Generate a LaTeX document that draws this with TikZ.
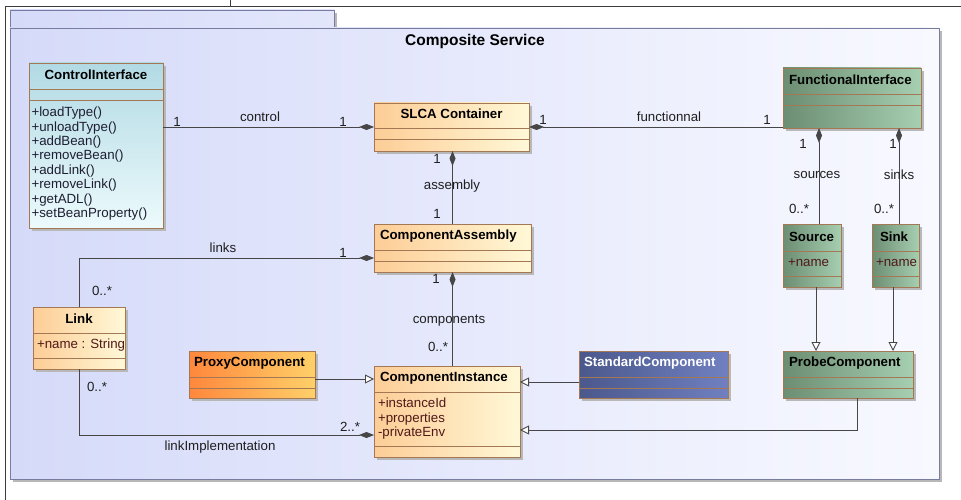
\documentclass[tikz,border=0pt]{standalone}
\usepackage{fontspec}
\setmainfont{Liberation Sans}
\usetikzlibrary{arrows.meta,calc,shadows}
\definecolor{clsborder}{RGB}{165,120,85}
\definecolor{linec}{RGB}{70,70,70}
\definecolor{or1}{RGB}{253,205,150}
\definecolor{or2}{RGB}{255,248,215}
\definecolor{cy1}{RGB}{178,218,228}
\definecolor{cy2}{RGB}{236,250,252}
\definecolor{gr1}{RGB}{108,142,114}
\definecolor{gr2}{RGB}{166,206,176}
\definecolor{px1}{RGB}{255,135,60}
\definecolor{px2}{RGB}{255,208,105}
\definecolor{bl1}{RGB}{75,88,140}
\definecolor{bl2}{RGB}{112,128,192}
\definecolor{pk1}{RGB}{213,218,249}
\definecolor{pk2}{RGB}{248,249,255}
\definecolor{pkborder}{RGB}{120,125,160}
\definecolor{attrc}{RGB}{80,25,25}
\definecolor{methc}{RGB}{30,30,50}
\definecolor{framec}{RGB}{60,60,60}
\begin{document}
\begin{tikzpicture}[x=1pt,y=-1pt,
  txt/.style={font=\fontsize{13.3}{14.4}\selectfont, inner sep=0pt, outer sep=0pt, text=black!88},
  clsname/.style={txt, font=\fontsize{13.3}{14.4}\selectfont\bfseries, text=black},
  attr/.style={txt, text=attrc, anchor=base west},
  meth/.style={txt, text=methc, anchor=base west},
  cls/.style={draw=clsborder, line width=0.9pt, inner sep=0pt, outer sep=0pt, anchor=north west,
     drop shadow={shadow xshift=3pt, shadow yshift=-3pt, fill=black!28, opacity=1}},
  orangecls/.style={cls, left color=or1, right color=or2},
  cyancls/.style={cls, top color=cy1, bottom color=cy2},
  greencls/.style={cls, left color=gr1, right color=gr2},
  proxycls/.style={cls, left color=px1, right color=px2},
  bluecls/.style={cls, left color=bl1, right color=bl2},
  sep/.style={draw=clsborder, line width=0.9pt},
  comp/.style={draw=linec, line width=0.9pt, -{Diamond[length=15pt,width=6pt]}},
  gen/.style={draw=linec, line width=0.9pt, -{Triangle[open,length=9pt,width=9pt,fill=white]}},
  frameline/.style={draw=framec, line width=0.8pt}
]
\useasboundingbox (0,0) rectangle (961,500);
\fill[white] (0,0) rectangle (961,500);
% outer frame
\draw[frameline] (961,6) -- (5,6) -- (5,500);
\draw[frameline] (230,0) -- (230,6);
% package
\fill[black!28] (13,13) rectangle (337,31);
\fill[black!28] (13,31) rectangle (942,482);
\shade[left color=pk1, right color=pk1!60!pk2, draw=pkborder, line width=0.9pt] (10,10) rectangle (334,28);
\shade[left color=pk1, right color=pk2, draw=pkborder, line width=0.9pt] (10,28) rectangle (939,479);
\node[txt, font=\fontsize{15.5}{18}\selectfont\bfseries, text=black] (title) at (475,41) {Composite Service};

% ControlInterface
\node[cyancls, minimum width=134pt, minimum height=165pt] (ctl) at (29,63) {};
\draw[sep] ([yshift=-26pt]ctl.north west) -- ([yshift=-26pt]ctl.north east);
\draw[sep] ([yshift=-37pt]ctl.north west) -- ([yshift=-37pt]ctl.north east);
\node[clsname] (ctlname) at ($(ctl.north)+(0,11.5)$) {ControlInterface};
\foreach \t [count=\i from 0] in {+loadType(),+unloadType(),+addBean(),+removeBean(),+addLink(),+removeLink(),+getADL(),+setBeanProperty()}
  \node[meth] (m\i) at (31.5,116.8+14.4*\i) {\t};

% SLCA Container
\node[orangecls, minimum width=155pt, minimum height=48pt] (slca) at (374,103) {};
\draw[sep] ([yshift=-25pt]slca.north west) -- ([yshift=-25pt]slca.north east);
\draw[sep] ([yshift=-36pt]slca.north west) -- ([yshift=-36pt]slca.north east);
\node[clsname] (slcaname) at ($(slca.north)+(0,11)$) {SLCA Container};

% ComponentAssembly
\node[orangecls, minimum width=157pt, minimum height=48pt] (asm) at (374,224) {};
\draw[sep] ([yshift=-26pt]asm.north west) -- ([yshift=-26pt]asm.north east);
\draw[sep] ([yshift=-37pt]asm.north west) -- ([yshift=-37pt]asm.north east);
\node[clsname, anchor=west] (asmname) at ($(asm.north west)+(6,12)$) {ComponentAssembly};

% ComponentInstance
\node[orangecls, minimum width=146pt, minimum height=91pt] (ci) at (374,366) {};
\draw[sep] ([yshift=-26pt]ci.north west) -- ([yshift=-26pt]ci.north east);
\draw[sep] ([yshift=-80pt]ci.north west) -- ([yshift=-80pt]ci.north east);
\node[clsname, anchor=west] (ciname) at ($(ci.north west)+(6,12)$) {ComponentInstance};
\foreach \t [count=\i from 0] in {+instanceId,+properties,-privateEnv}
  \node[attr] (a\i) at (378,407.8+14.4*\i) {\t};

% Link
\node[orangecls, minimum width=92pt, minimum height=62pt] (link) at (33,307) {};
\draw[sep] ([yshift=-26pt]link.north west) -- ([yshift=-26pt]link.north east);
\draw[sep] ([yshift=-51pt]link.north west) -- ([yshift=-51pt]link.north east);
\node[clsname] (linkname) at ($(link.north)+(0,12)$) {Link};
\node[attr] (linkattr) at (37,348.5) {+name : String};

% ProxyComponent
\node[proxycls, minimum width=126pt, minimum height=47pt] (proxy) at (189,351) {};
\draw[sep] ([yshift=-26pt]proxy.north west) -- ([yshift=-26pt]proxy.north east);
\draw[sep] ([yshift=-37pt]proxy.north west) -- ([yshift=-37pt]proxy.north east);
\node[clsname, anchor=west] (proxyname) at ($(proxy.north west)+(5,12)$) {ProxyComponent};

% StandardComponent
\node[bluecls, minimum width=149pt, minimum height=47pt] (std) at (579,351) {};
\draw[sep] ([yshift=-26pt]std.north west) -- ([yshift=-26pt]std.north east);
\draw[sep] ([yshift=-37pt]std.north west) -- ([yshift=-37pt]std.north east);
\node[clsname, anchor=west, text=white] (stdname) at ($(std.north west)+(5,12)$) {StandardComponent};

% ProbeComponent
\node[greencls, minimum width=130pt, minimum height=47pt] (probe) at (783,351) {};
\draw[sep] ([yshift=-26pt]probe.north west) -- ([yshift=-26pt]probe.north east);
\draw[sep] ([yshift=-37pt]probe.north west) -- ([yshift=-37pt]probe.north east);
\node[clsname, anchor=west] (probename) at ($(probe.north west)+(6,12)$) {ProbeComponent};

% Source
\node[greencls, minimum width=58pt, minimum height=63pt] (src) at (783,224) {};
\draw[sep] ([yshift=-27pt]src.north west) -- ([yshift=-27pt]src.north east);
\draw[sep] ([yshift=-52pt]src.north west) -- ([yshift=-52pt]src.north east);
\node[clsname, anchor=west] (srcname) at ($(src.north west)+(6,12.5)$) {Source};
\node[attr] (srcattr) at (788,266.5) {+name};

% Sink
\node[greencls, minimum width=47pt, minimum height=63pt] (sink) at (872,224) {};
\draw[sep] ([yshift=-27pt]sink.north west) -- ([yshift=-27pt]sink.north east);
\draw[sep] ([yshift=-52pt]sink.north west) -- ([yshift=-52pt]sink.north east);
\node[clsname, anchor=west] (sinkname) at ($(sink.north west)+(8,12.5)$) {Sink};
\node[attr] (sinkattr) at (876,266.5) {+name};

% FunctionalInterface
\node[greencls, minimum width=138pt, minimum height=60pt] (fi) at (783,68) {};
\draw[sep] ([yshift=-26pt]fi.north west) -- ([yshift=-26pt]fi.north east);
\draw[sep] ([yshift=-37pt]fi.north west) -- ([yshift=-37pt]fi.north east);
\node[clsname, anchor=west] (finame) at ($(fi.north west)+(6,12)$) {FunctionalInterface};

% connectors
\draw[comp] (ctl.east |- slca.west) -- (slca.west);
\draw[comp] (slca.east -| fi.west) -- (slca.east);
\draw[comp] (asm.north) -- (asm.north |- slca.south);
\draw[comp] (ci.north -| asm.south) -- (asm.south);
\coordinate (asmw) at ([yshift=-10pt]asm.west);
\draw[comp] (link.north) |- (asmw);
\coordinate (ciw) at ([yshift=-23.5pt]ci.west);
\draw[comp] (link.south) |- (ciw);
\coordinate (pe) at ([yshift=-4.5pt]proxy.east);
\draw[gen] (pe) -- (pe -| ci.west);
\coordinate (sw) at ([yshift=-7.5pt]std.west);
\draw[gen] (sw) -- (sw -| ci.east);
\coordinate (pb) at ([xshift=9pt]probe.south);
\coordinate (cie) at ([yshift=-18.5pt]ci.east);
\draw[gen] (pb) |- (cie);
\coordinate (sb) at ([xshift=4pt]src.south);
\draw[gen] (sb) -- (sb |- probe.north);
\coordinate (kb) at ([xshift=-2.5pt]sink.south);
\draw[gen] (kb) -- (kb |- probe.north);
\coordinate (st) at ([xshift=7pt]src.north);
\draw[comp] (st) -- (st |- fi.south);
\coordinate (kt) at ([xshift=3.5pt]sink.north);
\draw[comp] (kt) -- (kt |- fi.south);

% connector labels
\node[txt] (l1) at (177,122) {1};
\node[txt] (l2) at (260,117) {control};
\node[txt] (l3) at (343,122) {1};
\node[txt] (l4) at (543,120) {1};
\node[txt] (l5) at (669,117) {functionnal};
\node[txt] (l6) at (767,120) {1};
\node[txt] (l7) at (437,159) {1};
\node[txt] (l8) at (452,186) {assembly};
\node[txt] (l9) at (437,214) {1};
\node[txt] (l10) at (436,279) {1};
\node[txt] (l11) at (449,321) {components};
\node[txt] (l12) at (438,347) {0..*};
\node[txt] (l13) at (223,248) {links};
\node[txt] (l14) at (343,253) {1};
\node[txt] (l15) at (102,291) {0..*};
\node[txt] (l16) at (97,387) {0..*};
\node[txt] (l17) at (350,427) {2..*};
\node[txt] (l18) at (220,447) {linkImplementation};
\node[txt] (l19) at (803,144) {1};
\node[txt] (l20) at (817,175) {sources};
\node[txt] (l21) at (799,209) {0..*};
\node[txt] (l22) at (893,144) {1};
\node[txt] (l23) at (899,175) {sinks};
\node[txt] (l24) at (884,209) {0..*};
\end{tikzpicture}
\end{document}
